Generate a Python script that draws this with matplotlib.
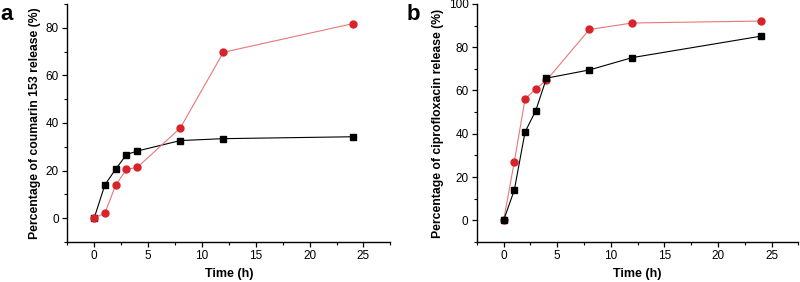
import matplotlib
matplotlib.use("Agg")
import matplotlib.pyplot as plt
from matplotlib.ticker import MultipleLocator

plt.rcParams['font.family'] = ['Liberation Sans', 'DejaVu Sans']

time_h = [0, 1, 2, 3, 4, 8, 12, 24]
a_black = [0, 14.0, 20.6, 26.7, 28.2, 32.6, 33.4, 34.2]
a_red = [0, 2.1, 13.9, 20.5, 21.3, 37.9, 69.7, 81.7]
b_black = [0, 14.0, 40.8, 50.7, 65.7, 69.5, 75.2, 85.1]
b_red = [0, 27.1, 56.0, 60.8, 64.7, 88.2, 91.2, 92.1]

xticks = [0, 5, 10, 15, 20, 25]
a_yticks = [0, 20, 40, 60, 80]
b_yticks = [0, 20, 40, 60, 80, 100]

fig = plt.figure(figsize=(8, 2.82), dpi=100)
ax1 = fig.add_axes([0.084, 0.142, 0.404, 0.844])
ax2 = fig.add_axes([0.596, 0.142, 0.402, 0.844])

RED = '#d8232a'
RED_LINE = '#e87878'

def style(ax, ylabel, yticks, ylim):
    ax.set_xlim(-2.5, 27.5)
    ax.set_ylim(*ylim)
    ax.set_xticks(xticks)
    ax.set_yticks(yticks)
    ax.xaxis.set_minor_locator(MultipleLocator(2.5))
    ax.yaxis.set_minor_locator(MultipleLocator(10))
    for s in ['top', 'right']:
        ax.spines[s].set_visible(False)
    for s in ['left', 'bottom']:
        ax.spines[s].set_linewidth(1.0)
    ax.tick_params(which='major', direction='out', length=3.5, width=0.9, labelsize=8.5, pad=2.5)
    ax.tick_params(which='minor', direction='out', length=2, width=0.8)
    ax.set_xlabel('Time (h)', fontsize=9, fontweight='bold', labelpad=4)
    ax.set_ylabel(ylabel, fontsize=8.8, fontweight='bold', labelpad=3)

# panel a
ax1.plot(time_h, a_black, color='black', lw=0.8, marker='s', ms=5, mfc='black', mec='black', zorder=3)
ax1.plot(time_h, a_red, color=RED_LINE, lw=0.8, marker='o', ms=5, mfc=RED, mec=RED, zorder=4)
style(ax1, 'Percentage of coumarin 153 release (%)', a_yticks, (-10, 90))

# panel b
ax2.plot(time_h, b_red, color=RED_LINE, lw=0.8, marker='o', ms=5, mfc=RED, mec=RED, zorder=3)
ax2.plot(time_h, b_black, color='black', lw=0.8, marker='s', ms=5, mfc='black', mec='black', zorder=4)
style(ax2, 'Percentage of ciprofloxacin release (%)', b_yticks, (-10, 100))

fig.text(0.0, 0.985, 'a', fontsize=16, fontweight='bold', va='top', ha='left')
fig.text(0.508, 0.985, 'b', fontsize=16, fontweight='bold', va='top', ha='left')

fig.savefig('out.png', dpi=100)
